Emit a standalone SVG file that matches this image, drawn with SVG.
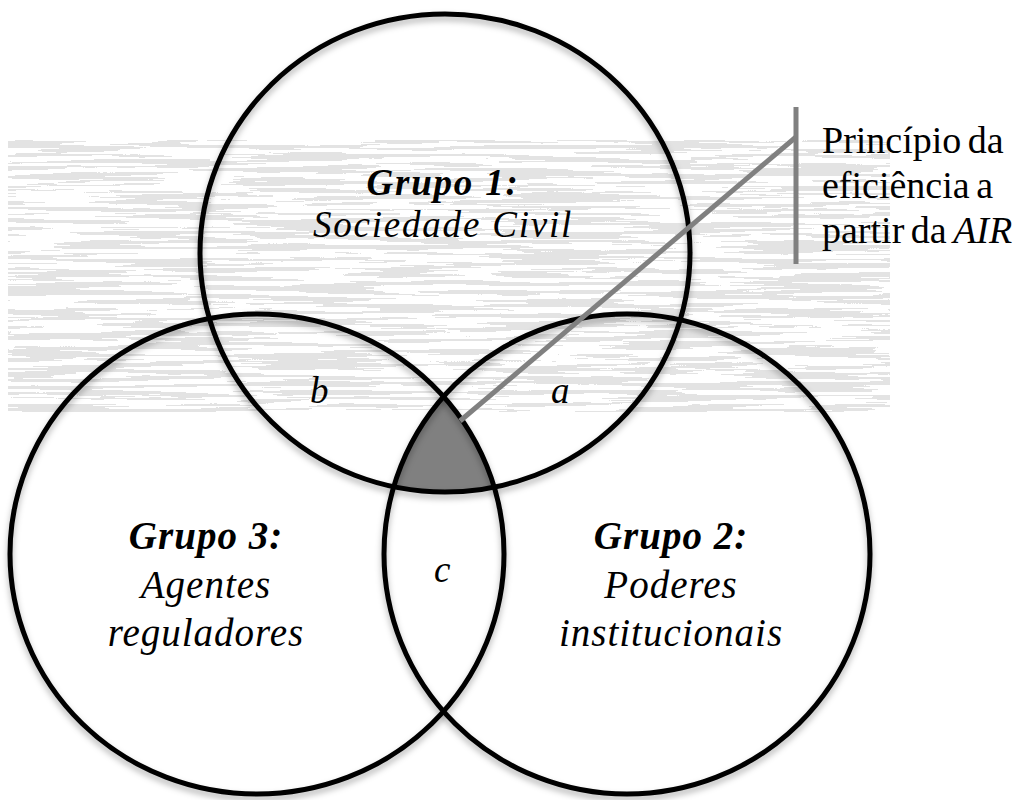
<svg xmlns="http://www.w3.org/2000/svg" width="1032" height="800" viewBox="0 0 1032 800">
<style>
.circ{fill:none;stroke:#000;stroke-width:5}
.lbl{font-family:"Liberation Serif","Times New Roman",serif;font-size:39px;font-style:italic;fill:#000;letter-spacing:1px;text-anchor:middle}
.g1{font-size:37px;letter-spacing:1.8px}
.bold{font-weight:bold}
.let{font-family:"Liberation Serif","Times New Roman",serif;font-size:37px;font-style:italic;fill:#000}
.note{font-family:"Liberation Serif","Times New Roman",serif;font-size:38px;fill:#000;word-spacing:-3px}
.lead{stroke:#808080;stroke-width:5;fill:none}
</style>
<defs>
<filter id="tex" x="0" y="0" width="1" height="1">
<feTurbulence type="fractalNoise" baseFrequency="0.008 0.22" numOctaves="3" seed="7" result="n"/>
<feColorMatrix type="matrix" values="0 0 0 0 0.77  0 0 0 0 0.77  0 0 0 0 0.77  4 0 0 0 -1.55"/>
<feComponentTransfer><feFuncA type="discrete" tableValues="0 1"/></feComponentTransfer>
</filter>
<filter id="sh" x="-10%" y="-10%" width="120%" height="120%">
<feDropShadow dx="0" dy="4" stdDeviation="3" flood-color="#000" flood-opacity="0.3"/>
</filter>
<clipPath id="c2"><ellipse cx="627" cy="554" rx="243" ry="240"/></clipPath>
<clipPath id="c3"><ellipse cx="257" cy="554" rx="247" ry="240"/></clipPath>
</defs>
<rect width="1032" height="800" fill="#fff"/>
<rect x="8" y="140" width="882" height="272" fill="#fff" filter="url(#tex)"/>
<g id="center-region" clip-path="url(#c3)">
<g clip-path="url(#c2)">
<ellipse cx="445" cy="253" rx="245" ry="239" fill="#808080"/>
</g>
</g>
<g id="group1">
<ellipse class="circ" cx="445" cy="253" rx="245" ry="239" filter="url(#sh)"/>
<text class="lbl g1 bold" x="443" y="195">Grupo 1:</text>
<text class="lbl g1" x="443" y="237">Sociedade Civil</text>
</g>
<g id="group3">
<ellipse class="circ" cx="257" cy="554" rx="247" ry="240" filter="url(#sh)"/>
<text class="lbl bold" x="206" y="549">Grupo 3:</text>
<text class="lbl" x="206" y="598">Agentes</text>
<text class="lbl" x="206" y="646">reguladores</text>
</g>
<g id="group2">
<ellipse class="circ" cx="627" cy="554" rx="243" ry="240" filter="url(#sh)"/>
<text class="lbl bold" x="671" y="549">Grupo 2:</text>
<text class="lbl" x="671" y="598">Poderes</text>
<text class="lbl" x="671" y="646">institucionais</text>
</g>
<g id="labels">
<text class="let" x="310" y="403">b</text>
<text class="let" x="551" y="403">a</text>
<text class="let" x="434" y="582">c</text>
</g>
<g id="connectors">
<line class="lead" x1="796" y1="137" x2="460" y2="421"/>
<line class="lead" x1="796" y1="107" x2="796" y2="264"/>
</g>
<g id="note">
<text class="note" x="822" y="153">Princípio da</text>
<text class="note" x="822" y="198">eficiência a</text>
<text class="note" x="822" y="243">partir da <tspan font-style="italic">AIR</tspan></text>
</g>
</svg>
